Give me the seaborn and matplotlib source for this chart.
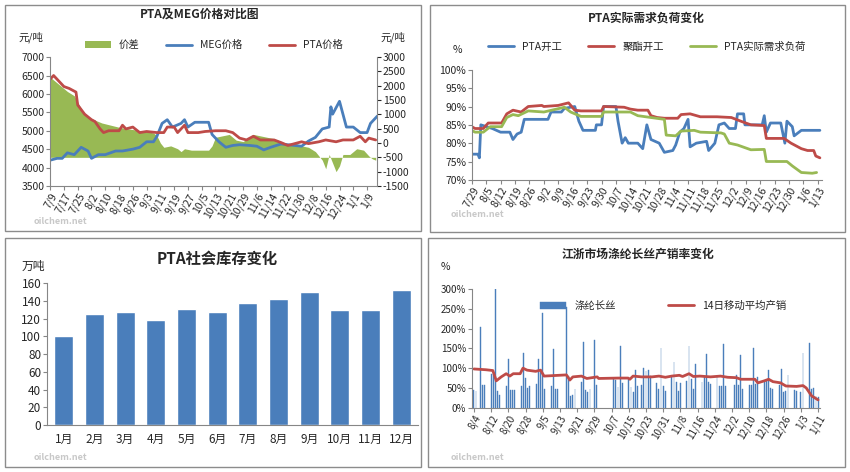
import numpy as np
import pandas as pd
import matplotlib
matplotlib.use("Agg")
import matplotlib.pyplot as plt
import matplotlib.ticker as mtick
from matplotlib.patches import Rectangle
import seaborn as sns

sns.set_style("white")
plt.rcParams["font.family"] = ["Noto Sans CJK SC", "DejaVu Sans"]
plt.rcParams["axes.unicode_minus"] = False

BLUE = "#4a7ebb"
RED = "#be4b48"
GREEN = "#98b954"

# ---- panel 1: PTA & MEG price (day 0 = 7/9)
p1_ticks = ["7/9", "7/17", "7/25", "8/2", "8/10", "8/18", "8/26", "9/3", "9/11", "9/19", "9/27",
            "10/5", "10/13", "10/21", "10/29", "11/6", "11/14", "11/22", "11/30", "12/8",
            "12/16", "12/24", "1/1", "1/9"]
pta_day = [0, 2, 5, 8, 11, 15, 16, 20, 24, 26, 29, 31, 34, 40, 42, 44, 48, 52, 56, 62, 66, 68, 72,
           74, 78, 80, 86, 90, 96, 102, 106, 110, 114, 118, 122, 130, 134, 138, 142, 146, 150, 156,
           160, 166, 170, 176, 180, 183, 185, 189]
pta_price = [6400, 6500, 6350, 6200, 6150, 6050, 5700, 5450, 5300, 5250, 5050, 4950, 5000, 5000,
             5150, 5050, 5100, 4950, 4980, 4950, 4950, 5100, 5100, 4950, 5150, 4950, 4950, 4980,
             5000, 5000, 4950, 4800, 4750, 4850, 4750, 4750, 4680, 4600, 4650, 4700, 4650, 4700,
             4750, 4700, 4750, 4750, 4850, 4700, 4800, 4750]
meg_day = [0, 4, 7, 10, 14, 18, 22, 24, 28, 32, 38, 42, 48, 52, 56, 60, 62, 65, 68, 71, 76, 78, 80,
           84, 92, 94, 98, 102, 106, 110, 116, 120, 124, 128, 134, 138, 142, 146, 150, 154, 158,
           162, 163, 164, 168, 172, 176, 180, 184, 186, 188, 190]
meg_price = [4200, 4250, 4250, 4400, 4350, 4550, 4450, 4250, 4350, 4350, 4450, 4450, 4500, 4550,
             4700, 4700, 4850, 5200, 5300, 5100, 5200, 5300, 5100, 5230, 5230, 4900, 4700, 4550,
             4600, 4620, 4600, 4580, 4480, 4550, 4640, 4620, 4600, 4580, 4720, 4820, 5050, 5100,
             5650, 5450, 5800, 5100, 5100, 4950, 4950, 5200, 5300, 5400]
spr_day = [0, 2, 6, 10, 14, 18, 22, 26, 30, 40, 50, 56, 60, 62, 64, 66, 70, 74, 76, 78, 82, 92, 94,
           96, 100, 104, 108, 112, 118, 122, 126, 130, 134, 138, 142, 146, 150, 154, 158, 160, 162,
           164, 166, 168, 170, 174, 176, 178, 182, 185, 187, 189]
spread = [2300, 2200, 2000, 1800, 1650, 1200, 900, 800, 700, 550, 450, 400, 350, 250, 0, -150,
          -100, -200, -300, -200, -250, -250, -100, 200, 250, 300, 100, 50, 300, 250, 200, 150, 50,
          -50, 0, -100, -150, -300, -600, -900, -400, -700, -1000, -800, -400, -400, -300, -200,
          -250, -450, -550, -600]

# ---- panel 2: operating rates (day 0 = 7/29)
p2_ticks = ["7/29", "8/5", "8/12", "8/19", "8/26", "9/2", "9/9", "9/16", "9/23", "9/30", "10/7",
            "10/14", "10/21", "10/28", "11/4", "11/11", "11/18", "11/25", "12/2", "12/9", "12/16",
            "12/23", "12/30", "1/6", "1/13"]
pta_op_day = [0, 3, 3.7, 4.4, 10, 14, 18.5, 20, 22, 24, 25.5, 37, 38.5, 43.5, 45, 50, 52, 54, 60,
              60.5, 63, 64, 70, 71, 73, 74.5, 76, 80.6, 83, 85, 87, 91, 93.5, 97.6, 99, 101, 103,
              105, 106, 109, 114, 115, 118, 120, 122.6, 125, 128, 129, 132, 132.6, 141, 142, 143,
              145, 150, 152, 153, 155.6, 156.5, 160, 169]
pta_op = [77, 77, 76, 85, 84, 83, 83, 81, 82.5, 83, 86.5, 86.5, 88.5, 88.5, 89.5, 90, 86, 83.5,
          83.5, 85, 85, 90, 90, 86, 80, 81.5, 80, 80, 78.5, 85, 81, 80, 77.5, 78, 79.5, 83, 84,
          86.5, 79, 80, 80.5, 78, 80, 85, 85.5, 84, 84, 88, 88, 85, 85, 87.5, 83, 85.5, 85.5, 80,
          86, 84.5, 82, 83.5, 83.5]
poly_day = [0, 1.6, 5.6, 8, 14.5, 17, 20, 24, 27.4, 34, 35, 42, 47, 50, 53, 63, 64, 74, 77, 80.6,
            85.5, 87, 90, 93.5, 100, 101.6, 106, 111, 119, 126, 130.6, 135.5, 142, 143, 151.6, 155,
            160, 163, 166, 167, 169]
poly_op = [84.5, 84, 84, 85.5, 85.5, 88, 89, 88.5, 90, 90.3, 90, 90.3, 91, 89, 88.8, 88.8, 90,
           89.8, 89.3, 89, 89, 87.5, 87, 86.8, 86.8, 87.8, 88, 87.2, 87.2, 87, 86, 85, 84.8, 81.3,
           81.3, 80, 78.5, 78, 78, 76.5, 76]
dem_day = [0, 1.6, 5.6, 9, 14.5, 17, 20, 22.6, 27.4, 35, 45, 48, 53, 63, 64, 77, 80.6, 87, 93.5,
           94.4, 99, 101.6, 108, 111, 121, 122.6, 125, 129, 135.5, 142, 143, 153, 155.6, 160,
           165.3, 167.4]
dem_load = [83.5, 83, 83, 84.5, 84.5, 87, 87.8, 87.5, 88.8, 88.5, 89.8, 88.5, 87.3, 87.3, 88.5,
            88.5, 87.5, 87, 86.5, 82.2, 82, 83.3, 83.5, 83, 82.8, 82.5, 80, 79.5, 78.2, 78.3, 75,
            75, 73.8, 72, 71.8, 72]

# ---- panel 3: PTA social inventory
months = ["1月", "2月", "3月", "4月", "5月", "6月", "7月", "8月", "9月", "10月", "11月", "12月"]
inventory = [100, 125, 128, 119, 131, 128, 138, 142, 150, 130, 130, 152]

# ---- panel 4: polyester filament sales ratio (day 0 = 8/4)
p4_ticks = ["8/4", "8/12", "8/20", "8/28", "9/5", "9/13", "9/21", "9/29", "10/7", "10/15", "10/23",
            "10/31", "11/8", "11/16", "11/24", "12/2", "12/10", "12/18", "12/26", "1/3", "1/11"]
sale_day = [0, 1, 3, 4, 5, 8, 9, 10, 11, 12, 15, 16, 17, 18, 19, 22, 23, 24, 25, 26, 29, 30, 31,
            32, 33, 36, 37, 38, 39, 43, 44, 45, 46, 47, 50, 51, 52, 53, 54, 56, 57, 65, 66, 67, 68,
            69, 72, 73, 74, 75, 76, 78, 79, 80, 81, 82, 85, 86, 87, 88, 89, 92, 93, 94, 95, 96, 99,
            100, 101, 102, 103, 106, 107, 108, 109, 110, 113, 114, 115, 116, 117, 121, 122, 123,
            124, 125, 128, 129, 130, 131, 132, 135, 136, 137, 138, 139, 142, 143, 144, 145, 146,
            149, 150, 152, 153, 156, 157, 158, 159, 160]
sale_ratio = [45, 43, 205, 57, 57, 85, 85, 300, 42, 32, 55, 122, 44, 44, 44, 55, 138, 75, 50, 55,
              60, 122, 90, 240, 47, 55, 148, 47, 47, 255, 80, 30, 32, 47, 65, 165, 45, 40, 47, 172,
              57, 72, 70, 52, 157, 62, 75, 52, 40, 95, 55, 58, 100, 92, 95, 80, 62, 48, 150, 55,
              42, 80, 115, 65, 42, 62, 68, 157, 73, 47, 110, 65, 77, 135, 65, 60, 80, 55, 55, 160,
              55, 57, 82, 57, 132, 47, 57, 57, 152, 60, 77, 65, 70, 95, 50, 47, 57, 97, 40, 42, 82,
              45, 42, 40, 138, 163, 48, 50, 30, 28]
ma_day = [0, 5.6, 8.8, 10.4, 12.7, 15, 16.7, 18.3, 21.5, 22.8, 24.7, 28.7, 31, 32.6, 43, 44.6, 46,
          50, 52.5, 57.3, 58, 67, 71.7, 72.5, 74, 78, 82.8, 86, 89, 92, 95.5, 97, 100, 102, 105,
          110, 114.6, 118, 122, 124, 130.6, 132, 135, 137, 139, 142.5, 145, 150, 153, 154.5, 157,
          160]
ma14 = [98, 96, 94, 68, 78, 86, 80, 86, 86, 100, 95, 92, 95, 80, 83, 70, 78, 80, 74, 78, 74, 75,
        75, 72, 80, 78, 78, 80, 77, 80, 82, 79, 86, 79, 80, 78, 80, 77, 76, 72, 72, 63, 68, 72, 66,
        63, 55, 54, 56, 50, 30, 20]

fig = plt.figure(figsize=(8.5, 4.72), dpi=100)
for (x0, y0, x1, y1) in [(5, 5, 421, 231), (430, 5, 845, 232), (5, 238, 421, 467), (428, 238, 845, 467)]:
    fig.patches.append(Rectangle((x0 / 850, 1 - y1 / 472), (x1 - x0) / 850, (y1 - y0) / 472,
                                 transform=fig.transFigure, fill=False, ec="#8c8c8c", lw=1))


def style(ax):
    for s in ["top", "right"]:
        ax.spines[s].set_visible(False)
    for s in ["left", "bottom"]:
        ax.spines[s].set_color("#868686")
    ax.tick_params(axis="both", labelsize=7.5, length=3, color="#868686", pad=1,
                   direction="out", left=True, bottom=True)


# panel 1
ax1 = fig.add_axes([0.059, 0.606, 0.385, 0.273])
ax1r = ax1.twinx()
ax1r.fill_between(spr_day, spread, -500, color=GREEN, lw=0, label="价差")
ax1r.set_ylim(-1500, 3000)
ax1r.set_yticks(range(-1500, 3001, 500))
sns.lineplot(x=meg_day, y=meg_price, ax=ax1, color=BLUE, lw=2, label="MEG价格", legend=False)
sns.lineplot(x=pta_day, y=pta_price, ax=ax1, color=RED, lw=2, label="PTA价格", legend=False)
ax1.set_zorder(ax1r.get_zorder() + 1)
ax1.patch.set_visible(False)
ax1.set_ylim(3500, 7000)
ax1.set_yticks(range(3500, 7001, 500))
ax1.set_xlim(0, 190)
ax1.set_xticks(range(0, 190, 8))
ax1.set_xticklabels(p1_ticks, rotation=60, ha="right", rotation_mode="anchor")
style(ax1)
ax1r.spines["top"].set_visible(False)
ax1r.spines["right"].set_color("#868686")
ax1r.spines["left"].set_visible(False)
ax1r.spines["bottom"].set_visible(False)
ax1r.tick_params(labelsize=7.5, length=3, pad=1, right=True)
h1, l1 = ax1r.get_legend_handles_labels()
h2, l2 = ax1.get_legend_handles_labels()
ax1.legend(h1 + h2, l1 + l2, loc="lower center", bbox_to_anchor=(0.5, 0.98), ncol=3,
           frameon=False, fontsize=7.5, handlelength=2.5, columnspacing=2.5)
fig.text(0.235, 0.962, "PTA及MEG价格对比图", ha="center", fontsize=8.5, weight="bold")
fig.text(0.022, 0.915, "元/吨", fontsize=7.5)
fig.text(0.448, 0.915, "元/吨", fontsize=7.5)

# panel 2
ax2 = fig.add_axes([0.555, 0.619, 0.412, 0.233])
sns.lineplot(x=pta_op_day, y=pta_op, ax=ax2, color=BLUE, lw=2, label="PTA开工")
sns.lineplot(x=poly_day, y=poly_op, ax=ax2, color=RED, lw=2, label="聚酯开工")
sns.lineplot(x=dem_day, y=dem_load, ax=ax2, color=GREEN, lw=2, label="PTA实际需求负荷")
ax2.set_ylim(70, 100)
ax2.set_yticks(range(70, 101, 5))
ax2.yaxis.set_major_formatter(mtick.FuncFormatter(lambda v, p: f"{v:.0f}%"))
ax2.set_xlim(0, 170)
ax2.set_xticks(range(0, 170, 7))
ax2.set_xticklabels(p2_ticks, rotation=60, ha="right", rotation_mode="anchor")
style(ax2)
ax2.legend(loc="lower center", bbox_to_anchor=(0.5, 1.08), ncol=3, frameon=False, fontsize=7.5,
           handlelength=2.5, columnspacing=2.5)
fig.text(0.76, 0.955, "PTA实际需求负荷变化", ha="center", fontsize=8.5, weight="bold")
fig.text(0.533, 0.887, "%", fontsize=7.5)

# panel 3
ax3 = fig.add_axes([0.055, 0.0996, 0.437, 0.30])
df3 = pd.DataFrame({"month": months, "inv": inventory})
sns.barplot(data=df3, x="month", y="inv", ax=ax3, color=BLUE, saturation=1, width=0.62)
ax3.set_ylim(0, 160)
ax3.set_yticks(range(0, 161, 20))
ax3.set_xlabel("")
ax3.set_ylabel("")
ax3.set_xlim(-0.55, 11.55)
style(ax3)
ax3.tick_params(axis="x", length=0, labelsize=8.5, pad=6)
ax3.tick_params(axis="y", labelsize=8.5)
fig.text(0.255, 0.44, "PTA社会库存变化", ha="center", fontsize=11, weight="bold")
fig.text(0.025, 0.428, "万吨", fontsize=8.5)

# panel 4
ax4 = fig.add_axes([0.555, 0.136, 0.41, 0.252])
ax4.bar(sale_day, sale_ratio, width=0.4, color=BLUE, edgecolor=BLUE, lw=0.3, label="涤纶长丝")
sns.lineplot(x=ma_day, y=ma14, ax=ax4, color=RED, lw=2, label="14日移动平均产销")
ax4.set_ylim(0, 300)
ax4.set_yticks(range(0, 301, 50))
ax4.yaxis.set_major_formatter(mtick.FuncFormatter(lambda v, p: f"{v:.0f}%"))
ax4.set_xlim(-1, 161)
ax4.set_xticks(range(0, 161, 8))
ax4.set_xticklabels(p4_ticks, rotation=60, ha="right", rotation_mode="anchor")
style(ax4)
ax4.tick_params(labelsize=7)
h4, l4 = ax4.get_legend_handles_labels()
order = [l4.index("涤纶长丝"), l4.index("14日移动平均产销")]
ax4.legend([h4[i] for i in order], [l4[i] for i in order], loc="upper center",
           bbox_to_anchor=(0.55, 0.98), ncol=2, frameon=False, fontsize=7.5,
           handlelength=2.5, columnspacing=5)
fig.text(0.75, 0.455, "江浙市场涤纶长丝产销率变化", ha="center", fontsize=8.5, weight="bold")
fig.text(0.518, 0.428, "%", fontsize=7.5)

# watermarks
for (wx, wy) in [(0.04, 0.525), (0.53, 0.54), (0.04, 0.025), (0.53, 0.025)]:
    fig.text(wx, wy, "oilchem.net", fontsize=6.5, color="#c8c8c8", weight="bold")

fig.savefig("out.png", dpi=100)
